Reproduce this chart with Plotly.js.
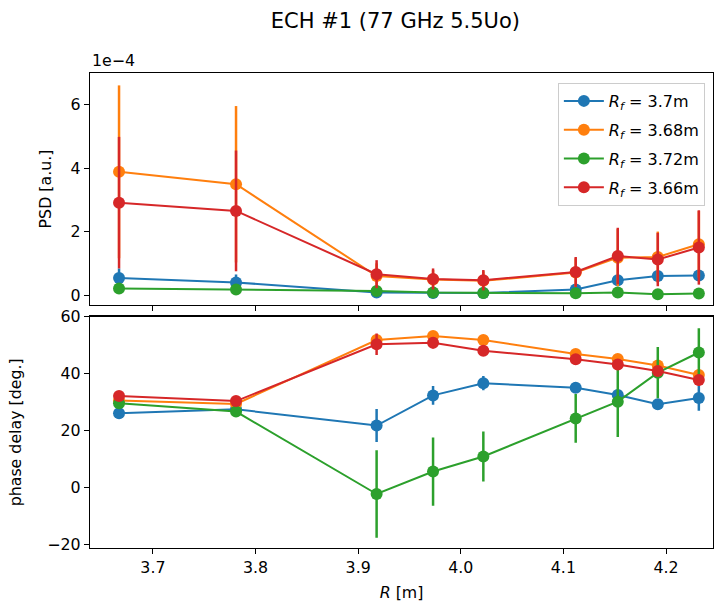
<!DOCTYPE html>
<html>
<head>
<meta charset="utf-8">
<script src="https://cdn.plot.ly/plotly-3.0.1.min.js"></script>
<style>html,body{margin:0;padding:0;background:#fff;}#chart{width:715px;height:604px;}</style>
</head>
<body>
<div id="chart"></div>
<script>
// Radial positions R [m]
const R = [3.667, 3.781, 3.918, 3.973, 4.022, 4.112, 4.153, 4.192, 4.232];

// Series labels
const seriesNames = ['R_f = 3.7m', 'R_f = 3.68m', 'R_f = 3.72m', 'R_f = 3.66m'];
const seriesLabels = ['<i>R</i><sub><i>f</i></sub> = 3.7m', '<i>R</i><sub><i>f</i></sub> = 3.68m',
                      '<i>R</i><sub><i>f</i></sub> = 3.72m', '<i>R</i><sub><i>f</i></sub> = 3.66m'];
const colors = ['#1f77b4', '#ff7f0e', '#2ca02c', '#d62728'];

// PSD values in units of 1e-4 [a.u.]
const psd_37  = [0.54, 0.40, 0.08, 0.07, 0.07, 0.18, 0.47, 0.60, 0.62];
const psd_368 = [3.88, 3.49, 0.60, 0.49, 0.45, 0.71, 1.18, 1.20, 1.60];
const psd_372 = [0.21, 0.18, 0.13, 0.08, 0.07, 0.06, 0.08, 0.03, 0.05];
const psd_366 = [2.91, 2.65, 0.66, 0.51, 0.47, 0.73, 1.23, 1.12, 1.50];
// PSD errors (1e-4)
const psdErr_37  = [0.30, 0.25, 0.08, 0.05, 0.05, 0.08, 0.15, 0.15, 0.15];
const psdErr_368 = [2.72, 2.46, 0.40, 0.30, 0.30, 0.45, 0.90, 0.80, 1.05];
const psdErr_372 = [0.05, 0.05, 0.04, 0.03, 0.03, 0.03, 0.04, 0.03, 0.03];
const psdErr_366 = [2.07, 1.90, 0.44, 0.33, 0.32, 0.47, 0.89, 0.84, 1.17];

// Phase delay [deg.]
const ph_37  = [26.0, 27.4, 21.7, 32.3, 36.6, 35.0, 32.4, 29.2, 31.4];
const ph_368 = [30.5, 29.3, 51.8, 53.2, 51.8, 46.9, 45.1, 42.8, 39.5];
const ph_372 = [29.5, 26.6, -2.4, 5.5, 10.8, 24.2, 30.1, 40.3, 47.4];
const ph_366 = [32.1, 30.3, 50.3, 50.8, 48.0, 45.0, 43.2, 40.9, 37.7];
const phErr_37  = [1.0, 1.0, 5.8, 3.3, 2.5, 1.5, 2.0, 1.5, 4.5];
const phErr_368 = [1.0, 1.0, 1.5, 1.5, 1.5, 1.5, 1.5, 1.5, 2.0];
const phErr_372 = [1.0, 1.0, 15.4, 12.0, 8.8, 8.6, 12.4, 9.0, 8.5];
const phErr_366 = [1.0, 1.0, 3.8, 2.0, 1.5, 1.5, 1.5, 1.5, 2.0];

const psdVals = [psd_37, psd_368, psd_372, psd_366];
const psdErrs = [psdErr_37, psdErr_368, psdErr_372, psdErr_366];
const phVals = [ph_37, ph_368, ph_372, ph_366];
const phErrs = [phErr_37, phErr_368, phErr_372, phErr_366];

const psdTicks = [0, 2, 4, 6];
const phTicks = [-20, 0, 20, 40, 60];
const xTicks = [3.7, 3.8, 3.9, 4.0, 4.1, 4.2];

const traces = [];
for (let i = 0; i < 4; i++) {
  traces.push({
    x: R, y: psdVals[i], xaxis: 'x', yaxis: 'y', type: 'scatter', mode: 'lines+markers',
    name: seriesLabels[i], legendgroup: 'g' + i, showlegend: true,
    line: {color: colors[i], width: 2}, marker: {color: colors[i], size: 12},
    error_y: {type: 'data', array: psdErrs[i], visible: true, color: colors[i], thickness: 2.5, width: 0}
  });
}
for (let i = 0; i < 4; i++) {
  traces.push({
    x: R, y: phVals[i], xaxis: 'x2', yaxis: 'y2', type: 'scatter', mode: 'lines+markers',
    name: seriesLabels[i], legendgroup: 'g' + i, showlegend: false,
    line: {color: colors[i], width: 2}, marker: {color: colors[i], size: 12},
    error_y: {type: 'data', array: phErrs[i], visible: true, color: colors[i], thickness: 2.5, width: 0}
  });
}

const font = {family: 'DejaVu Sans', size: 15.8, color: '#000'};
const axCommon = {
  showline: true, mirror: true, linecolor: '#000', linewidth: 1.2,
  ticks: 'outside', ticklen: 5, tickwidth: 1, tickcolor: '#000',
  showgrid: false, zeroline: false, tickfont: font
};

const layout = {
  width: 715, height: 604,
  margin: {l: 90, r: 2, t: 73, b: 56},
  paper_bgcolor: '#fff', plot_bgcolor: '#fff',
  font: font,
  title: {text: 'ECH #1 (77 GHz 5.5Uo)', font: {family: 'DejaVu Sans', size: 21, color: '#000'},
          x: 0.553, xanchor: 'center', y: 0.965, yanchor: 'middle'},
  xaxis: Object.assign({}, axCommon, {range: [3.6387, 4.2458], domain: [0, 1], anchor: 'y',
          tickvals: xTicks, showticklabels: false}),
  yaxis: Object.assign({}, axCommon, {range: [-0.31, 6.99], domain: [0.5116, 1], anchor: 'x',
          tickvals: psdTicks, ticktext: psdTicks.map(String),
          title: {text: 'PSD [a.u.]', font: font, standoff: 15}}),
  xaxis2: Object.assign({}, axCommon, {range: [3.6387, 4.2458], domain: [0, 1], anchor: 'y2',
          tickvals: xTicks, ticktext: xTicks.map(v => v.toFixed(1)),
          title: {text: '<i>R</i> [m]', font: font, standoff: 10}}),
  yaxis2: Object.assign({}, axCommon, {range: [-21.4, 60], domain: [0, 0.487], anchor: 'x2',
          tickvals: phTicks, ticktext: phTicks.map(v => v < 0 ? '\u2212' + Math.abs(v) : String(v)),
          title: {text: 'phase delay [deg.]', font: font, standoff: 21}}),
  legend: {x: 0.751, y: 0.979, xanchor: 'left', yanchor: 'top',
           traceorder: 'grouped', tracegroupgap: 5, itemwidth: 40,
           bgcolor: 'rgba(255,255,255,0.8)', bordercolor: '#ccc', borderwidth: 1,
           font: {family: 'DejaVu Sans', size: 16, color: '#000'}},
  annotations: [
    {text: '1e\u22124', xref: 'paper', yref: 'paper', x: 0, y: 1, xanchor: 'left', yanchor: 'bottom',
     yshift: 1, showarrow: false, font: font}
  ]
};

Plotly.newPlot('chart', traces, layout, {displayModeBar: false, staticPlot: true});
</script>
</body>
</html>
